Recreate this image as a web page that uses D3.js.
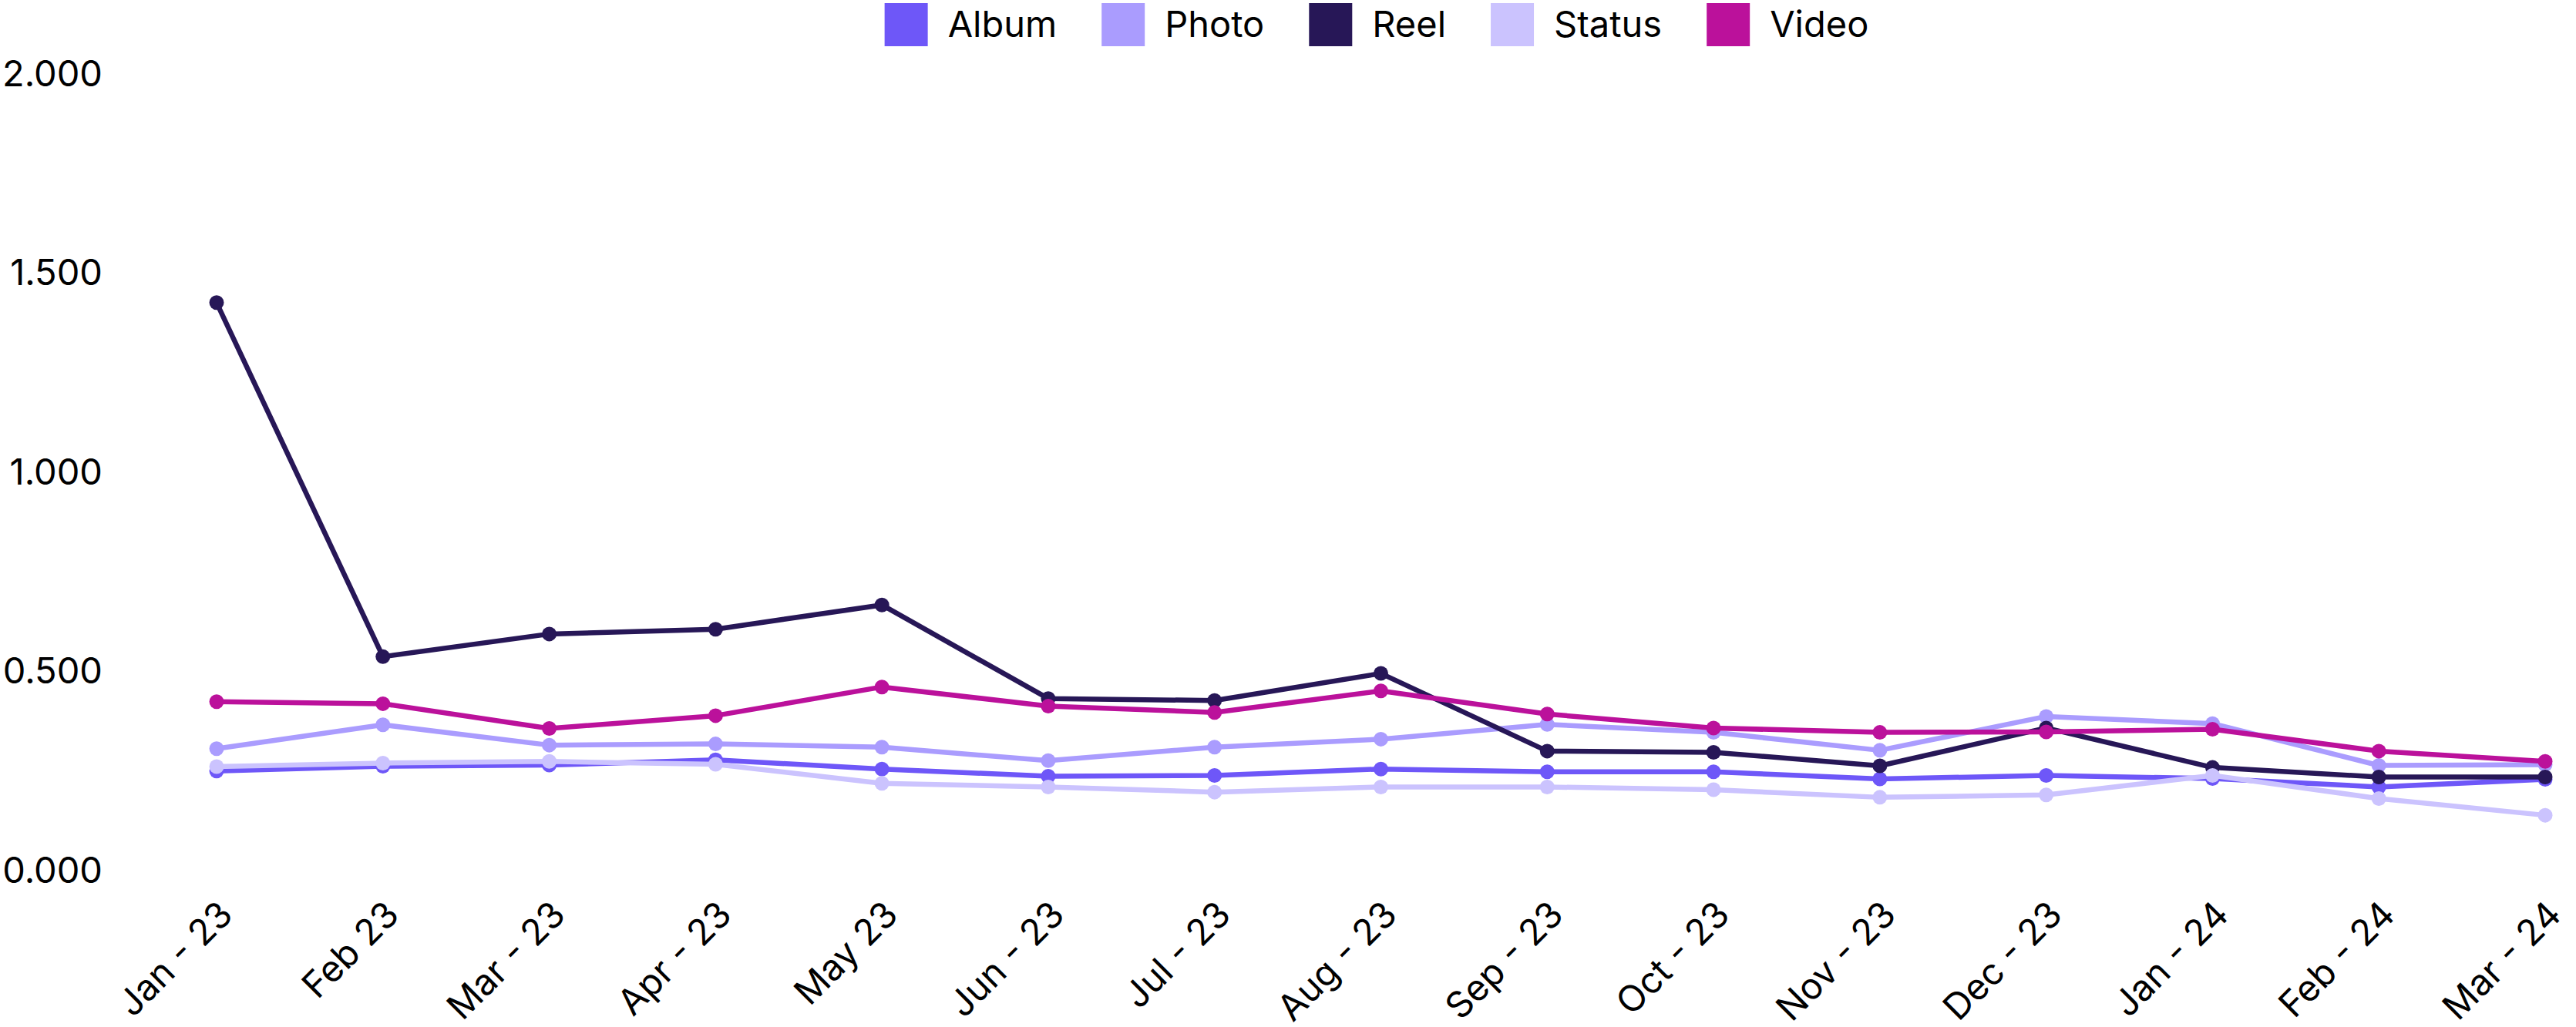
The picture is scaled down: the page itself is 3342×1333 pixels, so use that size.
<!DOCTYPE html>
<html>
<head>
<meta charset="utf-8">
<script src="https://cdn.jsdelivr.net/npm/d3@7"></script>
<style>
  html, body { margin: 0; padding: 0; background: #fff; }
  svg { display: block; font-family: Inter, "Noto Sans", sans-serif; }
</style>
</head>
<body>
<div id="chart"></div>
<script>
'use strict';

const months = ['Jan - 23', 'Feb 23', 'Mar - 23', 'Apr - 23', 'May 23', 'Jun - 23', 'Jul - 23',
    'Aug - 23', 'Sep - 23', 'Oct - 23', 'Nov - 23', 'Dec - 23', 'Jan - 24', 'Feb - 24', 'Mar - 24'];

const album = [0.250, 0.262, 0.265, 0.278, 0.255, 0.237, 0.239, 0.255, 0.248, 0.248, 0.230, 0.239, 0.231, 0.210, 0.229];
const photo = [0.306, 0.366, 0.315, 0.318, 0.310, 0.276, 0.310, 0.330, 0.367, 0.347, 0.302, 0.387, 0.369, 0.264, 0.266];
const reel = [1.426, 0.537, 0.594, 0.606, 0.667, 0.432, 0.427, 0.495, 0.300, 0.297, 0.263, 0.358, 0.259, 0.235, 0.235];
const status = [0.261, 0.270, 0.274, 0.267, 0.219, 0.210, 0.197, 0.210, 0.210, 0.203, 0.184, 0.190, 0.239, 0.181, 0.139];
const video = [0.424, 0.419, 0.357, 0.389, 0.461, 0.413, 0.397, 0.451, 0.393, 0.358, 0.347, 0.348, 0.355, 0.300, 0.274];

const seriesNames = ['Album', 'Photo', 'Reel', 'Status', 'Video'];
const seriesColors = ['#6e57f8', '#aa9cfe', '#271757', '#cbc3fe', '#bb119b'];
const yTicks = [0, 0.5, 1, 1.5, 2];

const series = [album, photo, reel, status, video].map((values, i) => ({
    name: seriesNames[i],
    color: seriesColors[i],
    values: values
}));

const size = { width: 3342, height: 1333 };
const margin = { top: 96, right: 40, bottom: 203, left: 281 };

const svg = d3.select('#chart')
    .append('svg')
    .attr('width', size.width)
    .attr('height', size.height);

const x = d3.scalePoint()
    .domain(months)
    .range([margin.left, 3302]);

const y = d3.scaleLinear()
    .domain([0, 2])
    .range([size.height - margin.bottom, margin.top]);

// y axis, labels only
const yAxis = svg.append('g')
    .attr('transform', 'translate(133,0)')
    .call(d3.axisLeft(y).tickValues(yTicks).tickFormat(d3.format('.3f')).tickSize(0).tickPadding(0));
yAxis.select('.domain').remove();
yAxis.selectAll('text')
    .attr('fill', '#000')
    .style('font-size', '47px')
    .style('font-family', 'Inter, sans-serif');

// x axis, rotated labels
const xAxis = svg.append('g')
    .attr('transform', `translate(0,${y(0)})`)
    .call(d3.axisBottom(x).tickSize(0));
xAxis.select('.domain').remove();
xAxis.selectAll('text')
    .attr('fill', '#000')
    .attr('x', 0)
    .attr('y', 0)
    .attr('dy', 0)
    .attr('text-anchor', 'end')
    .attr('transform', 'translate(23,60) rotate(-45)')
    .style('font-size', '47px')
    .style('font-family', 'Inter, sans-serif');

const line = d3.line()
    .x((d, i) => x(months[i]))
    .y(d => y(d));

const groups = svg.selectAll('.series')
    .data(series)
    .enter()
    .append('g')
    .attr('class', 'series');

groups.append('path')
    .attr('d', d => line(d.values))
    .attr('fill', 'none')
    .attr('stroke', d => d.color)
    .attr('stroke-width', 6.5)
    .attr('stroke-linejoin', 'round');

groups.selectAll('circle')
    .data(d => d.values.map(v => ({ v: v, color: d.color })))
    .enter()
    .append('circle')
    .attr('cx', (d, i) => x(months[i]))
    .attr('cy', d => y(d.v))
    .attr('r', 9.5)
    .attr('fill', d => d.color);

// legend
const legend = svg.append('g').attr('class', 'legend');
const box = 56, boxGap = 26, itemGap = 58;
let cursor = 0;
series.forEach(s => {
    const item = legend.append('g').attr('transform', `translate(${cursor},0)`);
    item.append('rect')
        .attr('x', 0)
        .attr('y', 4)
        .attr('width', box)
        .attr('height', box)
        .attr('fill', s.color);
    const label = item.append('text')
        .attr('x', box + boxGap)
        .attr('y', 32)
        .attr('dy', '0.35em')
        .attr('fill', '#000')
        .style('font-size', '47px')
        .style('font-family', 'Inter, sans-serif')
        .text(s.name);
    cursor += box + boxGap + label.node().getComputedTextLength() + itemGap;
});
const legendWidth = cursor - itemGap;
legend.attr('transform', `translate(${1786 - legendWidth / 2},0)`);
</script>
</body>
</html>
